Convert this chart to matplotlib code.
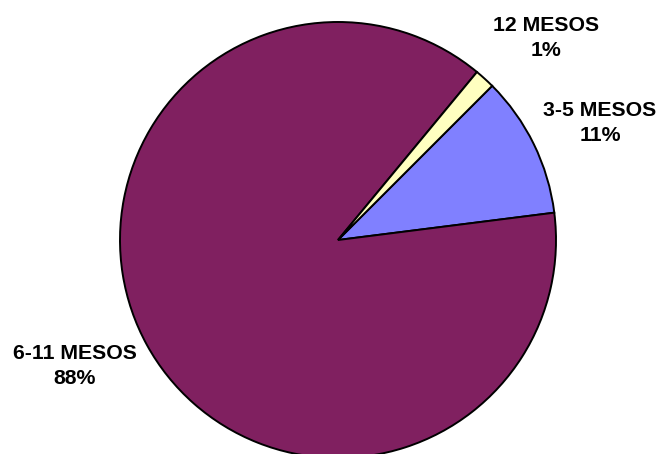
import matplotlib
matplotlib.use('Agg')
import matplotlib.pyplot as plt

# data (clockwise from the 3-5 slice)
labels = ['3-5 MESOS', '6-11 MESOS', '12 MESOS']
values = [10.5, 88.0, 1.5]
pct_labels = ['11%', '88%', '1%']
colors = ['#8080FF', '#802060', '#FFFFC0']

# layout in pixel units
W, H = 662, 454
center = (338, H - 240)
radius = 218
label_pos = [(600, H - 123), (75, H - 366), (546, H - 38)]

plt.rcParams['font.family'] = ['Liberation Sans', 'DejaVu Sans']

fig = plt.figure(figsize=(W / 100, H / 100), dpi=100)
ax = fig.add_axes([0, 0, 1, 1])
ax.pie(values, colors=colors, startangle=45, counterclock=False,
       center=center, radius=radius,
       wedgeprops=dict(edgecolor='black', linewidth=1.4))

for lab, pct, (x, y) in zip(labels, pct_labels, label_pos):
    ax.text(x, y, lab + '\n' + pct, ha='center', va='center',
            fontsize=15.3, fontweight='bold', linespacing=1.45)

ax.set_xlim(0, W)
ax.set_ylim(0, H)
ax.set_aspect('equal')
ax.axis('off')

fig.savefig('out.png', dpi=100)
